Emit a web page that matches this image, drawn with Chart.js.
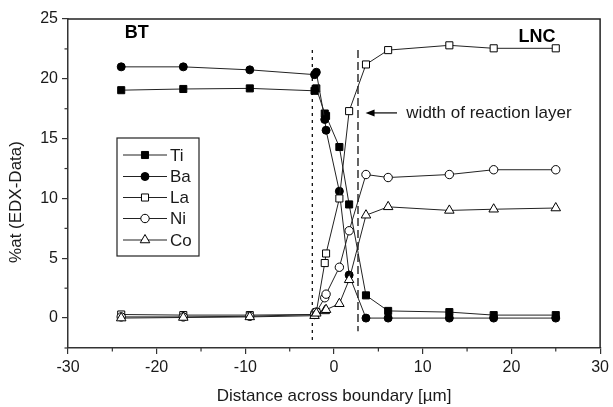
<!DOCTYPE html>
<html>
<head>
<meta charset="utf-8">
<script src="https://cdn.jsdelivr.net/npm/chart.js@4.4.0/dist/chart.umd.min.js"></script>
<style>
html,body{margin:0;padding:0;background:#fff;}
#wrap{width:613px;height:407px;position:relative;}
</style>
</head>
<body>
<div id="wrap"><canvas id="c" width="613" height="407"></canvas></div>
<script>
// ---- data ----
const distance = [-24, -17, -9.5, -2.2, -2.0, -1.05, -0.9, 0.6, 1.7, 3.6, 6.1, 13, 18, 25];
const ti = [19.05, 19.15, 19.2, 19.0, 19.2, 17.1, 16.9, 14.3, 9.5, 1.9, 0.6, 0.5, 0.25, 0.25];
const ba = [21.0, 21.0, 20.75, 20.35, 20.55, 16.6, 15.7, 10.6, 3.6, 0.0, 0.0, 0.0, 0.0, 0.0];
const la = [0.3, 0.25, 0.25, 0.3, 0.5, 4.6, 5.4, 10.0, 17.3, 21.2, 22.4, 22.8, 22.55, 22.55];
const ni = [0.1, 0.1, 0.15, 0.3, 0.5, 1.7, 2.0, 4.25, 7.3, 12.0, 11.75, 12.0, 12.4, 12.4];
const co = [0.0, 0.05, 0.1, 0.2, 0.4, 0.6, 0.7, 1.2, 3.2, 8.6, 9.3, 9.0, 9.1, 9.2];
const seriesNames = ['Ti', 'Ba', 'La', 'Ni', 'Co'];
const layerLeftX = [-2.45, -2.45];
const layerLeftY = [22.4, -1.9];
const layerRightX = [2.7, 2.7];
const layerRightY = [22.4, -1.1];
const xTicks = [-30, -20, -10, 0, 10, 20, 30];
const yTicks = [0, 5, 10, 15, 20, 25];

const FONT = '"Liberation Sans", Arial, sans-serif';
const INK = '#1a1a1a';

function pts(xs, ys){ return xs.map((x,i)=>({x:x, y:ys[i]})); }

const styles = [
  {pointStyle:'rect', bg:'#000', r:5},
  {pointStyle:'circle', bg:'#000', r:4},
  {pointStyle:'rect', bg:'#fff', r:5},
  {pointStyle:'circle', bg:'#fff', r:4.2},
  {pointStyle:'triangle', bg:'#fff', r:5.5}
];
const values = [ti, ba, la, ni, co];

const datasets = values.map((v,i)=>({
  label: seriesNames[i],
  data: pts(distance, v),
  borderColor: '#222',
  borderWidth: 1,
  pointStyle: styles[i].pointStyle,
  pointRadius: styles[i].r,
  pointBackgroundColor: styles[i].bg,
  pointBorderColor: '#000',
  pointBorderWidth: 1,
  showLine: true,
  tension: 0,
  order: 5 - i
}));
datasets.push({
  label: '_left', data: pts(layerLeftX, layerLeftY), borderColor: '#111', borderWidth: 1.3,
  borderDash: [3, 4], pointRadius: 0, showLine: true, order: 10
});
datasets.push({
  label: '_right', data: pts(layerRightX, layerRightY), borderColor: '#111', borderWidth: 1.3,
  borderDash: [8, 4], pointRadius: 0, showLine: true, order: 10
});

const extras = {
  id: 'extras',
  afterDraw(chart){
    const ctx = chart.ctx, a = chart.chartArea;
    const xs = chart.scales.x, ys = chart.scales.y;
    ctx.save();
    // frame top/right
    ctx.strokeStyle = '#222'; ctx.lineWidth = 1.5;
    ctx.beginPath();
    ctx.moveTo(a.left, a.top); ctx.lineTo(a.right, a.top); ctx.lineTo(a.right, a.bottom);
    ctx.stroke();
    // minor ticks
    ctx.lineWidth = 1.2; ctx.strokeStyle = '#333';
    for (let v = -25; v <= 25; v += 10){
      const px = xs.getPixelForValue(v);
      ctx.beginPath(); ctx.moveTo(px, a.bottom); ctx.lineTo(px, a.bottom + 3.5); ctx.stroke();
    }
    for (let v = -2.5; v <= 22.5; v += 5){
      const py = ys.getPixelForValue(v);
      ctx.beginPath(); ctx.moveTo(a.left, py); ctx.lineTo(a.left - 3.5, py); ctx.stroke();
    }
    // y axis title
    ctx.save();
    ctx.translate(16, 202);
    ctx.rotate(-Math.PI / 2);
    ctx.font = '17px ' + FONT; ctx.fillStyle = INK;
    ctx.textAlign = 'center'; ctx.textBaseline = 'middle';
    ctx.fillText('%at (EDX-Data)', 0, 0);
    ctx.restore();
    // labels
    ctx.fillStyle = '#000';
    ctx.font = 'bold 18px ' + FONT;
    ctx.textBaseline = 'middle'; ctx.textAlign = 'left';
    ctx.fillText('BT', xs.getPixelForValue(-23.6), ys.getPixelForValue(23.8));
    ctx.fillText('LNC', xs.getPixelForValue(20.8), ys.getPixelForValue(23.5));
    // arrow + text
    const ay = ys.getPixelForValue(17.15);
    const tipX = xs.getPixelForValue(3.55), tailX = xs.getPixelForValue(7.1);
    ctx.strokeStyle = '#000'; ctx.lineWidth = 1.2;
    ctx.beginPath(); ctx.moveTo(tailX, ay); ctx.lineTo(tipX + 6, ay); ctx.stroke();
    ctx.beginPath(); ctx.moveTo(tipX, ay); ctx.lineTo(tipX + 9, ay - 3.5); ctx.lineTo(tipX + 9, ay + 3.5); ctx.closePath(); ctx.fill();
    ctx.font = '17px ' + FONT; ctx.fillStyle = INK;
    ctx.fillText('width of reaction layer', xs.getPixelForValue(8.15), ay);
    // legend box
    const bx = 117, by = 138, bw = 82, bh = 118;
    ctx.strokeStyle = '#222'; ctx.lineWidth = 1.2;
    ctx.fillStyle = '#fff'; ctx.fillRect(bx, by, bw, bh);
    ctx.strokeRect(bx, by, bw, bh);
    const rowY = [155, 176.5, 197.5, 218.5, 240];
    chart.data.datasets.slice(0, 5).forEach((ds, i) => {
      const y = rowY[i];
      ctx.strokeStyle = '#222'; ctx.lineWidth = 1.2;
      ctx.beginPath(); ctx.moveTo(123, y); ctx.lineTo(167, y); ctx.stroke();
      ctx.fillStyle = ds.pointBackgroundColor; ctx.strokeStyle = '#000'; ctx.lineWidth = 1;
      Chart.helpers.drawPoint(ctx, {pointStyle: ds.pointStyle, rotation: 0, borderWidth: 1, radius: ds.pointRadius}, 145, y);
      ctx.fillStyle = INK; ctx.font = '17px ' + FONT; ctx.textAlign = 'left'; ctx.textBaseline = 'middle';
      ctx.fillText(ds.label, 170, y + 1);
    });
    ctx.restore();
  }
};

new Chart(document.getElementById('c'), {
  type: 'scatter',
  data: { datasets: datasets },
  options: {
    responsive: false,
    animation: false,
    devicePixelRatio: 1,
    layout: { padding: { top: 19, right: 11, left: 0, bottom: 0 } },
    plugins: { legend: { display: false }, tooltip: { enabled: false } },
    scales: {
      x: {
        type: 'linear', min: -30, max: 30,
        afterBuildTicks(s){ s.ticks = xTicks.map(v => ({value: v})); },
        afterFit(s){ s.height = 59; },
        grid: { drawOnChartArea: false, drawTicks: true, tickLength: 6, color: '#333', lineWidth: 1.2 },
        border: { display: true, color: '#333', width: 1.5 },
        ticks: { color: INK, font: { family: FONT, size: 16 }, padding: 4, maxRotation: 0 },
        title: { display: true, text: 'Distance across boundary [µm]', color: INK, font: { family: FONT, size: 17 }, padding: { top: 6, bottom: 0 } }
      },
      y: {
        type: 'linear', min: -2.5, max: 25,
        afterBuildTicks(s){ s.ticks = yTicks.map(v => ({value: v})); },
        afterFit(s){ s.width = 68; },
        grid: { drawOnChartArea: false, drawTicks: true, tickLength: 6, color: '#333', lineWidth: 1.2 },
        border: { display: true, color: '#333', width: 1.5 },
        ticks: { color: INK, font: { family: FONT, size: 16 }, padding: 4 },
        title: { display: false }
      }
    }
  },
  plugins: [extras]
});
</script>
</body>
</html>
